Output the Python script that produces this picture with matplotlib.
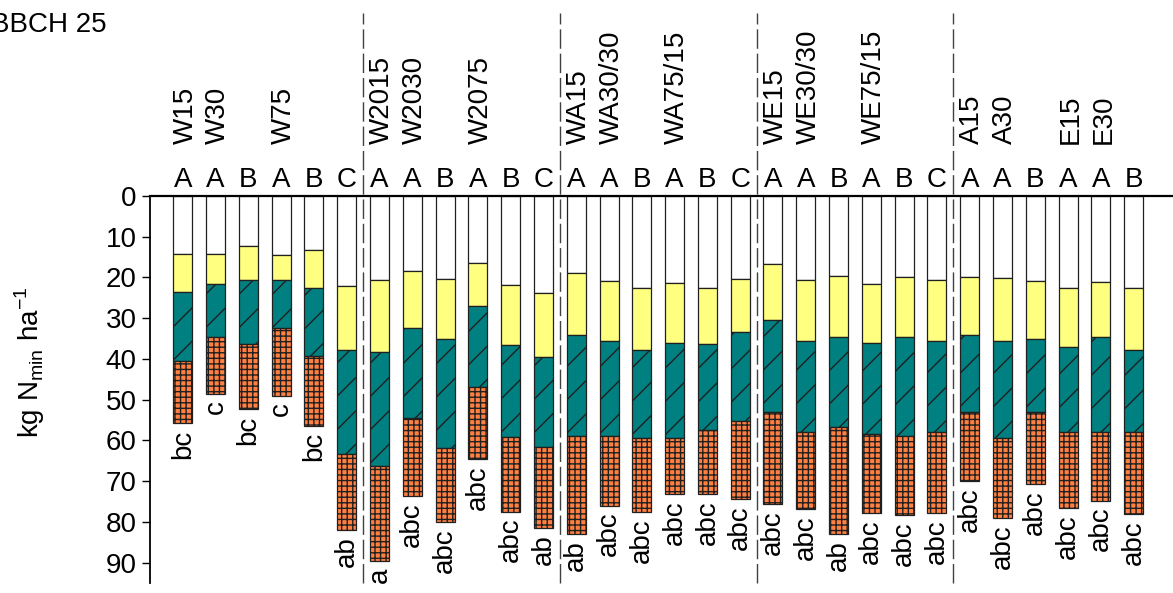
import numpy as np
import matplotlib
matplotlib.use("Agg")
import matplotlib.pyplot as plt

plt.rcParams['font.family'] = ['Liberation Sans', 'DejaVu Sans']
plt.rcParams['mathtext.fontset'] = 'custom'
plt.rcParams['mathtext.rm'] = 'Liberation Sans'
plt.rcParams['hatch.linewidth'] = 1.0

# Nmin per soil layer (kg N/ha), one value per treatment bar
layer1 = [14.3, 14.3, 12.3, 14.5, 13.3, 22.1,
          20.7, 18.4, 20.3, 16.4, 21.9, 23.7,
          18.9, 20.9, 22.7, 21.3, 22.5, 20.3,
          16.8, 20.5, 19.7, 21.7, 19.8, 20.7,
          20.0, 20.1, 20.9, 22.7, 21.2, 22.7]
layer2 = [9.3, 7.2, 8.4, 6.2, 9.2, 15.7,
          17.5, 14.1, 14.8, 10.6, 14.7, 15.8,
          15.3, 14.7, 15.0, 14.7, 13.9, 13.0,
          13.7, 15.0, 15.0, 14.3, 14.9, 14.8,
          14.2, 15.4, 14.1, 14.3, 13.5, 15.0]
layer3 = [16.9, 13.1, 15.7, 11.7, 16.7, 25.5,
          28.2, 22.1, 26.7, 20.0, 22.5, 22.0,
          24.7, 23.2, 21.6, 23.3, 21.1, 21.9,
          22.6, 22.4, 22.1, 22.5, 24.1, 22.4,
          18.9, 24.0, 18.1, 20.9, 23.2, 20.3]
layer4 = [15.3, 13.9, 16.0, 16.6, 17.2, 18.7,
          23.3, 19.0, 18.3, 17.6, 18.4, 20.1,
          24.1, 17.2, 18.3, 13.9, 15.6, 19.2,
          22.5, 19.0, 26.2, 19.4, 19.5, 20.0,
          16.9, 19.5, 17.7, 18.8, 16.9, 20.1]

top_letters = ['A', 'A', 'B', 'A', 'B', 'C',
               'A', 'A', 'B', 'A', 'B', 'C',
               'A', 'A', 'B', 'A', 'B', 'C',
               'A', 'A', 'B', 'A', 'B', 'C',
               'A', 'A', 'B', 'A', 'A', 'B']
bottom_letters = ['bc', 'c', 'bc', 'c', 'bc', 'ab',
                  'a', 'abc', 'abc', 'abc', 'abc', 'ab',
                  'ab', 'abc', 'abc', 'abc', 'abc', 'abc',
                  'abc', 'abc', 'ab', 'abc', 'abc', 'abc',
                  'abc', 'abc', 'abc', 'abc', 'abc', 'abc']
# treatment names and the bar they sit over
group_names = ['W15', 'W30', 'W75',
               'W2015', 'W2030', 'W2075',
               'WA15', 'WA30/30', 'WA75/15',
               'WE15', 'WE30/30', 'WE75/15',
               'A15', 'A30', 'E15', 'E30']
group_bars = [0, 1, 3, 6, 7, 9, 12, 13, 15, 18, 19, 21, 24, 25, 27, 28]
separators = [5.5, 11.5, 17.5, 23.5]

layers = [layer1, layer2, layer3, layer4]
colors = ['white', '#FFFF80', '#008080', '#FF8040']
hatches = [None, None, '/', '+++']

fig = plt.figure(figsize=(11.73, 5.93), dpi=100)
ax = fig.add_axes([150 / 1173, 10 / 593, 1 - 150 / 1173, 387 / 593])

x = np.arange(len(layer1))
bottom = np.zeros(len(x))
for vals, c, h in zip(layers, colors, hatches):
    ax.bar(x, vals, bottom=bottom, width=0.58, color=c, edgecolor='#202020',
           linewidth=0.9, hatch=h)
    bottom = bottom + np.array(vals)
total = bottom

ax.set_ylim(95, 0)
ax.set_xlim(-1.0, 30.2)
ax.set_yticks(np.arange(0, 91, 10))
ax.tick_params(axis='y', labelsize=20, length=6, width=1.0, direction='out')
ax.set_xticks([])
for s in ['bottom', 'right']:
    ax.spines[s].set_visible(False)
ax.spines['top'].set_linewidth(1.6)
ax.spines['left'].set_linewidth(1.3)

for xi, lt in zip(x, top_letters):
    ax.text(xi, -2.2, lt, ha='center', va='baseline', fontsize=20)
for xi, t, lb in zip(x, total, bottom_letters):
    ax.text(xi, t + 1.5, lb, ha='center', va='top', rotation=90, fontsize=20)
for b, name in zip(group_bars, group_names):
    ax.text(b + 0.08, -12.7, name, ha='center', va='bottom', rotation=90,
            fontsize=20)

for sx in separators:
    ax.plot([sx, sx], [95, -45], color='#404040', linewidth=1.0,
            dashes=(14, 3.5), clip_on=False)

fig.text(30 / 1173, 1 - 362 / 593, 'kg N$_{\\mathregular{min}}$ ha$^{\\mathregular{-1}}$',
         rotation=90, ha='center', va='center', fontsize=20)
fig.text(-9 / 1173, 1 - 32 / 593, 'BBCH 25', ha='left', va='baseline', fontsize=20)

fig.savefig('out.png', dpi=100)
